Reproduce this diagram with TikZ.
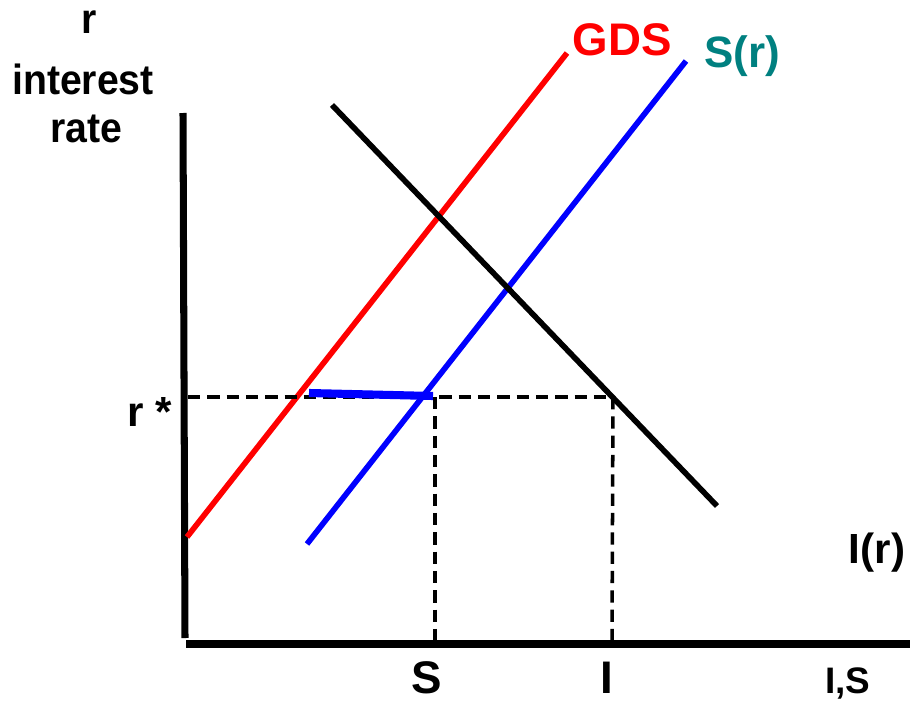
\documentclass[tikz,border=0pt]{standalone}
\usepackage{fontspec}
\setmainfont{Liberation Sans}
\definecolor{GDSRed}{RGB}{255,0,0}
\definecolor{SavBlue}{RGB}{0,0,255}
\definecolor{SavTeal}{RGB}{0,128,128}
\tikzset{
  axis/.style={line width=4pt,draw=black},
  curve/.style={line width=3.2pt},
  gds/.style={curve,draw=GDSRed},
  sav/.style={curve,draw=SavBlue},
  inv/.style={curve,draw=black},
  gap/.style={line width=4.6pt,draw=SavBlue},
  guide/.style={line width=2pt,draw=black,dash pattern=on 7pt off 4pt},
  lbl/.style={font=\bfseries\fontsize{24}{27}\selectfont,inner sep=0pt,align=center,text=black},
  ylbl/.style={lbl,xscale=0.93},
  tick/.style={font=\bfseries\fontsize{26}{28}\selectfont,inner sep=0pt}
}
\begin{document}
\begin{tikzpicture}[x=0.02cm,y=-0.02cm]
  \useasboundingbox (0,0) rectangle (910,703);
  % axes
  \coordinate (ytop) at (183,113);
  \coordinate (ybot) at (185,638);
  \coordinate (xleft) at (186,644);
  \coordinate (xright) at (910,644);
  \draw[axis] (ytop)--(ybot);
  \draw[axis] (xleft)--(xright);
  % curves
  \coordinate (gdsLo) at (187,537);
  \coordinate (gdsHi) at (567,53);
  \coordinate (savLo) at (307,544);
  \coordinate (savHi) at (686,61);
  \coordinate (invHi) at (332,105);
  \coordinate (invLo) at (717,506);
  \draw[gds] (gdsLo)--(gdsHi);
  \draw[sav] (savLo)--(savHi);
  \draw[inv] (invHi)--(invLo);
  % r* guides
  \coordinate (rstar) at (188,397);
  \coordinate (iTop) at (613,397);
  \coordinate (sTop) at (435,397);
  \coordinate (sBot) at (435,641);
  \coordinate (iBot) at (612,641);
  \draw[guide] (rstar)--(iTop);
  \draw[guide] (sTop)--(sBot);
  \draw[guide] (iTop)--(iBot);
  \coordinate (gapL) at (309,393);
  \coordinate (gapR) at (433,396);
  \draw[gap] (gapL)--(gapR);
  % labels
  \node[ylbl] (rlab) at (89,22) {r};
  \node[ylbl] (intlab) at (83,79) {interest};
  \node[ylbl] (ratelab) at (86,129) {rate};
  \node[lbl] (rstarlab) at (150,412) {r *};
  \node[lbl,text=GDSRed,font=\bfseries\fontsize{26}{28}\selectfont] (gdslab) at (622,40) {GDS};
  \node[lbl,text=SavTeal,font=\bfseries\fontsize{25}{28}\selectfont] (savlab) at (742,56) {S(r)};
  \node[lbl] (invlab) at (877,553) {I(r)};
  \node[tick] (slab) at (427,678) {S};
  \node[tick] (ilab) at (607,678) {I};
  \node[lbl,font=\bfseries\fontsize{21}{24}\selectfont] (islab) at (848,683) {I,S};
\end{tikzpicture}
\end{document}
